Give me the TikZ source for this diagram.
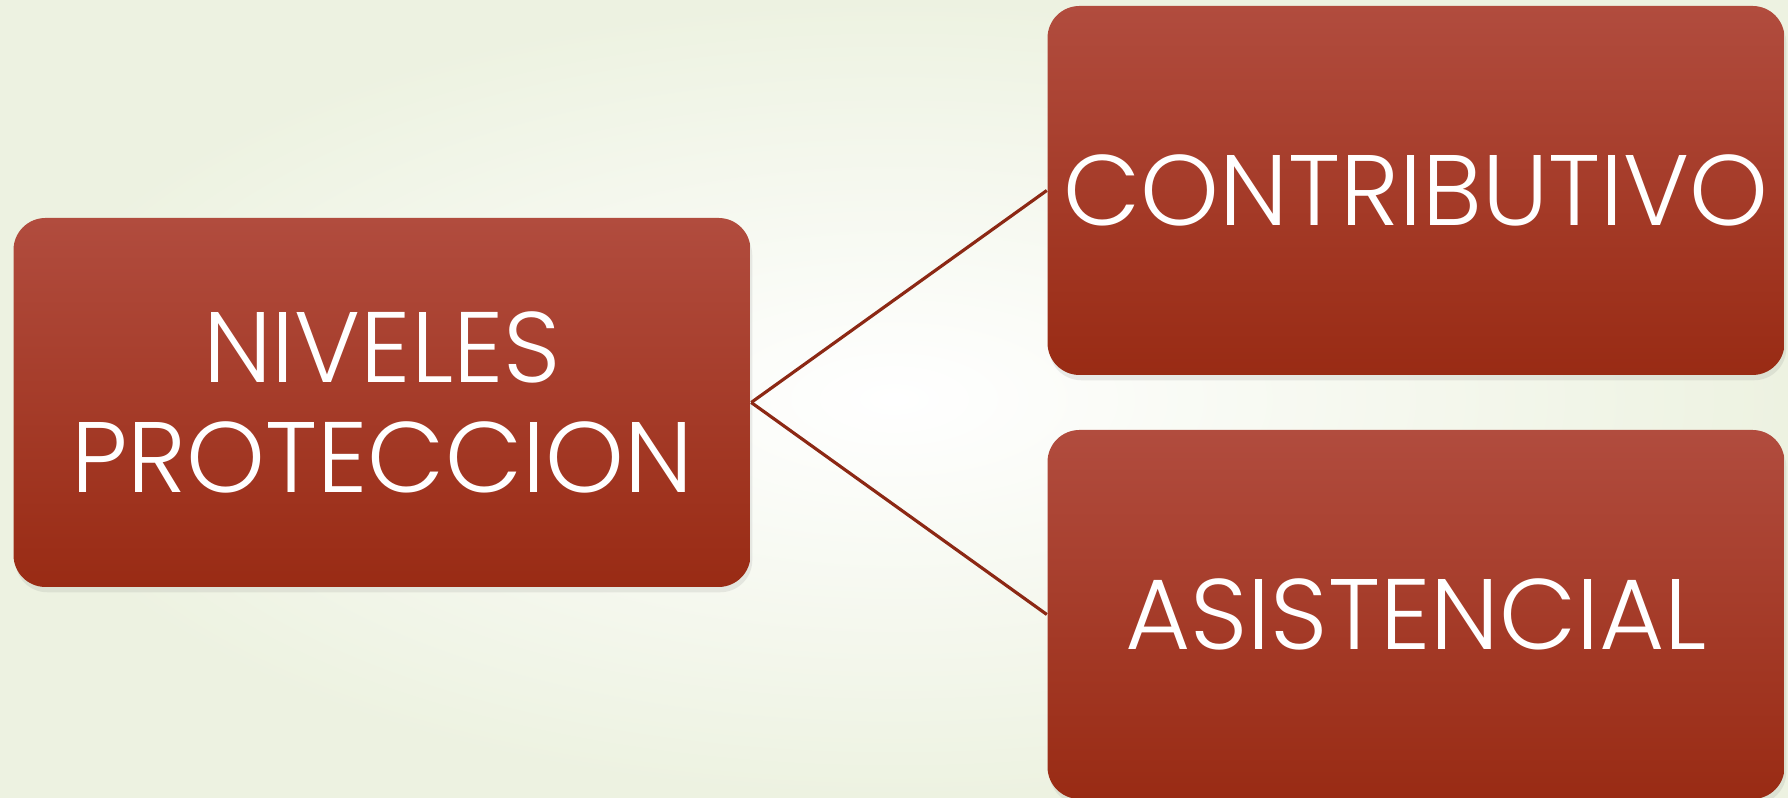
\documentclass[tikz,border=0pt]{standalone}
\usepackage{fontspec}
\newfontfamily\boxfont{Poppins Light}
\usetikzlibrary{positioning, shadows}
\definecolor{Box-top}{RGB}{177,76,62}
\definecolor{Box-bot}{RGB}{153,43,20}
\definecolor{Lnk-red}{RGB}{140,40,20}
\definecolor{Bg-out}{RGB}{237,242,225}

\begin{document}
\begin{tikzpicture}
        \tikzset{ lv/.style ={draw=none, rounded corners=0.32cm, minimum width=7.37cm, minimum height=3.69cm, inner xsep=2pt, text=white, align=center, top color=Box-top, bottom color=Box-bot, font=\boxfont\fontsize{28.5}{31.3}\selectfont, drop shadow={opacity=0.15, shadow xshift=0.5pt, shadow yshift=-1.5pt} } }
        \tikzstyle{lnk}=[draw=Lnk-red, line width=0.9pt]

        \newcommand\pw{17.88}
        \newcommand\ph{7.98}
        \newcommand\lft{3.82}
        \newcommand\rth{14.16}

        \fill[inner color=white, outer color=Bg-out] (0,0) rectangle (\pw,\ph);
        \useasboundingbox (0,0) rectangle (\pw,\ph);

        \node[lv] (n_lv) at (\lft, 3.955) {NIVELES\\PROTECCION};
        \node[lv] (n_ct) at (\rth, 6.075) {CONTRIBUTIVO};
        \node[lv] (n_as) at (\rth, 1.835) {ASISTENCIAL};

        \draw[lnk] (n_lv.east) -- (n_ct.west);
        \draw[lnk] (n_lv.east) -- (n_as.west);
      \end{tikzpicture}
\end{document}
